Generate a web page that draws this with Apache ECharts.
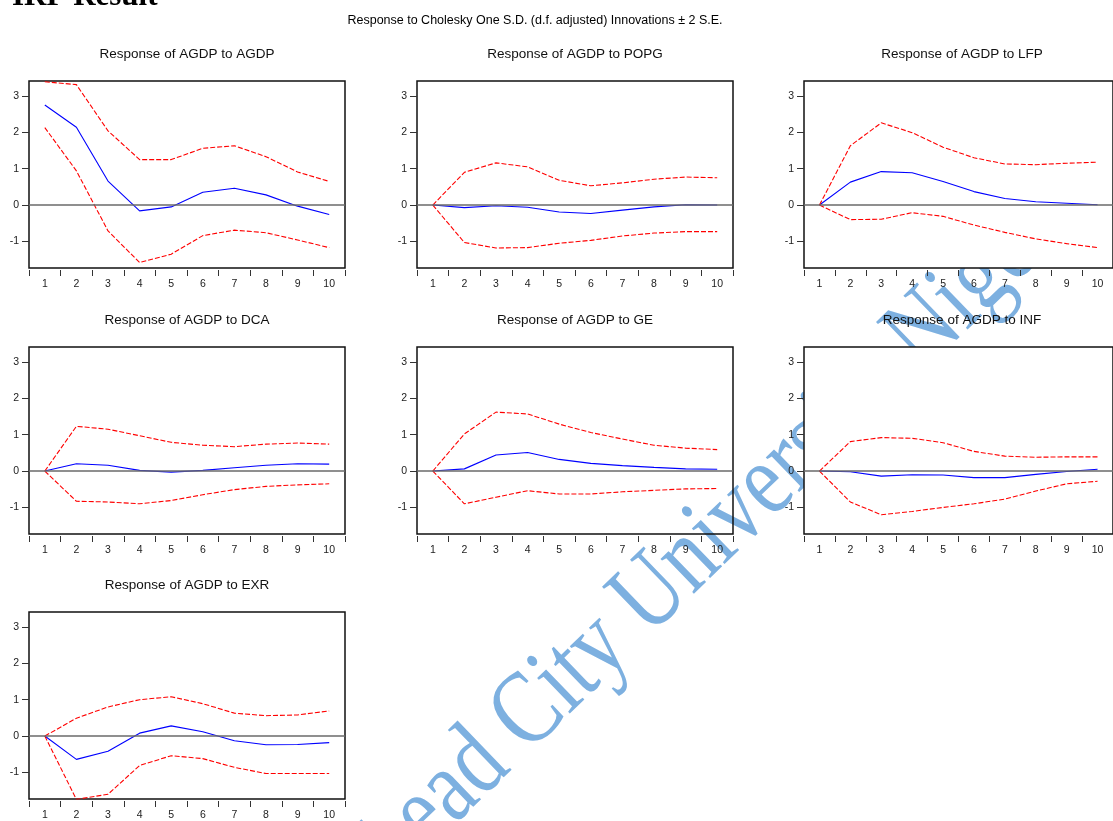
<!DOCTYPE html>
<html>
<head>
<meta charset="utf-8">
<script src="https://cdn.jsdelivr.net/npm/echarts@6/dist/echarts.min.js"></script>
<style>
html,body{margin:0;padding:0;background:#fff;}
#chart{width:1113px;height:821px;}
</style>
</head>
<body>
<div id="chart"></div>
<script>
// ---- data ----
const periods = ['1','2','3','4','5','6','7','8','9','10'];
const yTicks = [-1, 0, 1, 2, 3];
const panelTitles = [
  'Response of AGDP to AGDP', 'Response of AGDP to POPG', 'Response of AGDP to LFP',
  'Response of AGDP to DCA', 'Response of AGDP to GE', 'Response of AGDP to INF',
  'Response of AGDP to EXR'
];
const respAGDP  = [2.75, 2.14, 0.66, -0.16, -0.05, 0.35, 0.46, 0.28, -0.03, -0.26];
const upperAGDP = [3.39, 3.31, 2.04, 1.25, 1.25, 1.56, 1.63, 1.33, 0.91, 0.65];
const lowerAGDP = [2.13, 0.94, -0.71, -1.58, -1.35, -0.84, -0.69, -0.76, -0.96, -1.17];

const respPOPG  = [0, -0.07, -0.02, -0.06, -0.19, -0.23, -0.14, -0.05, 0.01, 0.00];
const upperPOPG = [0, 0.90, 1.16, 1.05, 0.68, 0.53, 0.61, 0.71, 0.77, 0.75];
const lowerPOPG = [0, -1.03, -1.18, -1.17, -1.05, -0.97, -0.85, -0.77, -0.73, -0.73];

const respLFP  = [0, 0.63, 0.92, 0.89, 0.65, 0.37, 0.18, 0.09, 0.05, 0.01];
const upperLFP = [0, 1.63, 2.26, 1.99, 1.59, 1.30, 1.13, 1.11, 1.15, 1.18];
const lowerLFP = [0, -0.40, -0.39, -0.21, -0.31, -0.55, -0.75, -0.93, -1.06, -1.17];

const respDCA  = [0, 0.20, 0.16, 0.02, -0.03, 0.02, 0.09, 0.16, 0.20, 0.19];
const upperDCA = [0, 1.23, 1.15, 0.97, 0.79, 0.71, 0.67, 0.74, 0.77, 0.74];
const lowerDCA = [0, -0.83, -0.85, -0.90, -0.81, -0.65, -0.51, -0.42, -0.38, -0.35];

const respGE  = [0, 0.06, 0.44, 0.51, 0.32, 0.21, 0.15, 0.10, 0.06, 0.05];
const upperGE = [0, 1.02, 1.62, 1.57, 1.29, 1.06, 0.88, 0.71, 0.63, 0.59];
const lowerGE = [0, -0.90, -0.72, -0.54, -0.63, -0.63, -0.57, -0.53, -0.49, -0.48];

const respINF  = [0, -0.02, -0.14, -0.10, -0.11, -0.18, -0.18, -0.09, -0.01, 0.05];
const upperINF = [0, 0.81, 0.92, 0.90, 0.78, 0.54, 0.41, 0.38, 0.39, 0.39];
const lowerINF = [0, -0.85, -1.20, -1.11, -1.00, -0.90, -0.77, -0.55, -0.35, -0.28];

const respEXR  = [0, -0.64, -0.42, 0.08, 0.28, 0.12, -0.13, -0.24, -0.23, -0.18];
const upperEXR = [0, 0.49, 0.80, 1.00, 1.08, 0.89, 0.63, 0.56, 0.58, 0.69];
const lowerEXR = [0, -1.74, -1.60, -0.81, -0.54, -0.62, -0.86, -1.03, -1.03, -1.03];

const responses = [respAGDP, respPOPG, respLFP, respDCA, respGE, respINF, respEXR];
const uppers = [upperAGDP, upperPOPG, upperLFP, upperDCA, upperGE, upperINF, upperEXR];
const lowers = [lowerAGDP, lowerPOPG, lowerLFP, lowerDCA, lowerGE, lowerINF, lowerEXR];

// ---- layout ----
const colLeft = [29, 417, 804];
const rowTop = [81, 347, 612];
const boxW = 316, boxH = 187;
const yMin = -1.73, yMax = 3.41;
const sansFont = 'Liberation Sans, Arial, sans-serif';

const grids = [], xAxes = [], yAxes = [], series = [], titles = [];
titles.push({
  text: 'Response to Cholesky One S.D. (d.f. adjusted) Innovations \u00b1 2 S.E.',
  left: 535, top: 13, textAlign: 'center', padding: 0, z: 8,
  textStyle: { fontFamily: sansFont, fontSize: 12.5, fontWeight: 'normal', color: '#000', lineHeight: 16 }
});

panelTitles.forEach((t, i) => {
  const col = i % 3, row = Math.floor(i / 3);
  const left = colLeft[col], top = rowTop[row];
  const masked = (i === 2 || i === 5);
  grids.push({
    left: left, top: top, width: boxW, height: boxH, show: true,
    borderColor: '#111', borderWidth: 1.5,
    backgroundColor: masked ? '#ffffff' : 'transparent'
  });
  xAxes.push({
    type: 'category', gridIndex: i, data: periods, boundaryGap: true,
    position: 'bottom', offset: 2, z: 4,
    axisLine: { show: false, onZero: false },
    axisTick: { show: true, length: 6, interval: 0, lineStyle: { color: '#333', width: 1 } },
    axisLabel: { interval: 0, margin: 9, fontFamily: sansFont, fontSize: 10.5, color: '#222' },
    splitLine: { show: false }
  });
  yAxes.push({
    type: 'value', gridIndex: i, min: yMin, max: yMax, z: 4,
    axisLine: { show: false, onZero: false },
    axisTick: { show: true, length: 7, customValues: yTicks, lineStyle: { color: '#333', width: 1 } },
    axisLabel: { margin: 10, customValues: yTicks, fontFamily: sansFont, fontSize: 10.5, color: '#222' },
    splitLine: { show: false }
  });
  titles.push({
    text: t, left: left + boxW / 2, top: top - 35, textAlign: 'center', padding: 0, z: 8,
    textStyle: { fontFamily: sansFont, fontSize: 13.5, fontWeight: 'normal', color: '#111', lineHeight: 16 }
  });
  series.push({
    type: 'line', xAxisIndex: i, yAxisIndex: i, data: responses[i], symbol: 'none', z: 3,
    lineStyle: { color: '#0000ff', width: 1.1 }, clip: true, silent: true,
    markLine: {
      silent: true, symbol: 'none', label: { show: false },
      lineStyle: { color: '#6a6a6a', width: 1.6, type: 'solid' },
      data: [{ yAxis: 0 }]
    }
  });
  series.push({
    type: 'line', xAxisIndex: i, yAxisIndex: i, data: uppers[i], symbol: 'none', z: 3,
    lineStyle: { color: '#ff0000', width: 1.1, type: [5, 2] }, clip: true, silent: true
  });
  series.push({
    type: 'line', xAxisIndex: i, yAxisIndex: i, data: lowers[i], symbol: 'none', z: 3,
    lineStyle: { color: '#ff0000', width: 1.1, type: [5, 2] }, clip: true, silent: true
  });
});

const wmAngle = 44 * Math.PI / 180;
const chart = echarts.init(document.getElementById('chart'), null, { renderer: 'canvas' });
chart.setOption({
  backgroundColor: '#fff',
  animation: false,
  title: titles,
  grid: grids,
  xAxis: xAxes,
  yAxis: yAxes,
  series: series,
  graphic: [
    {
      type: 'text', x: 12, y: -3.5, z: 9,
      style: { text: 'IRF Result', font: 'bold 31px "Liberation Serif", "Times New Roman", serif', fill: '#000', align: 'left', verticalAlign: 'middle' }
    },
    {
      type: 'text', x: 396, y: 893, rotation: wmAngle, scaleX: 0.81, scaleY: 1, z: -5, silent: true,
      style: { text: 'Lead City University Nigeria', x: 0, y: -36, font: '105px "Liberation Serif", "Times New Roman", serif', fill: '#7db0e0', align: 'left', verticalAlign: 'middle' }
    }
  ]
});
</script>
</body>
</html>
